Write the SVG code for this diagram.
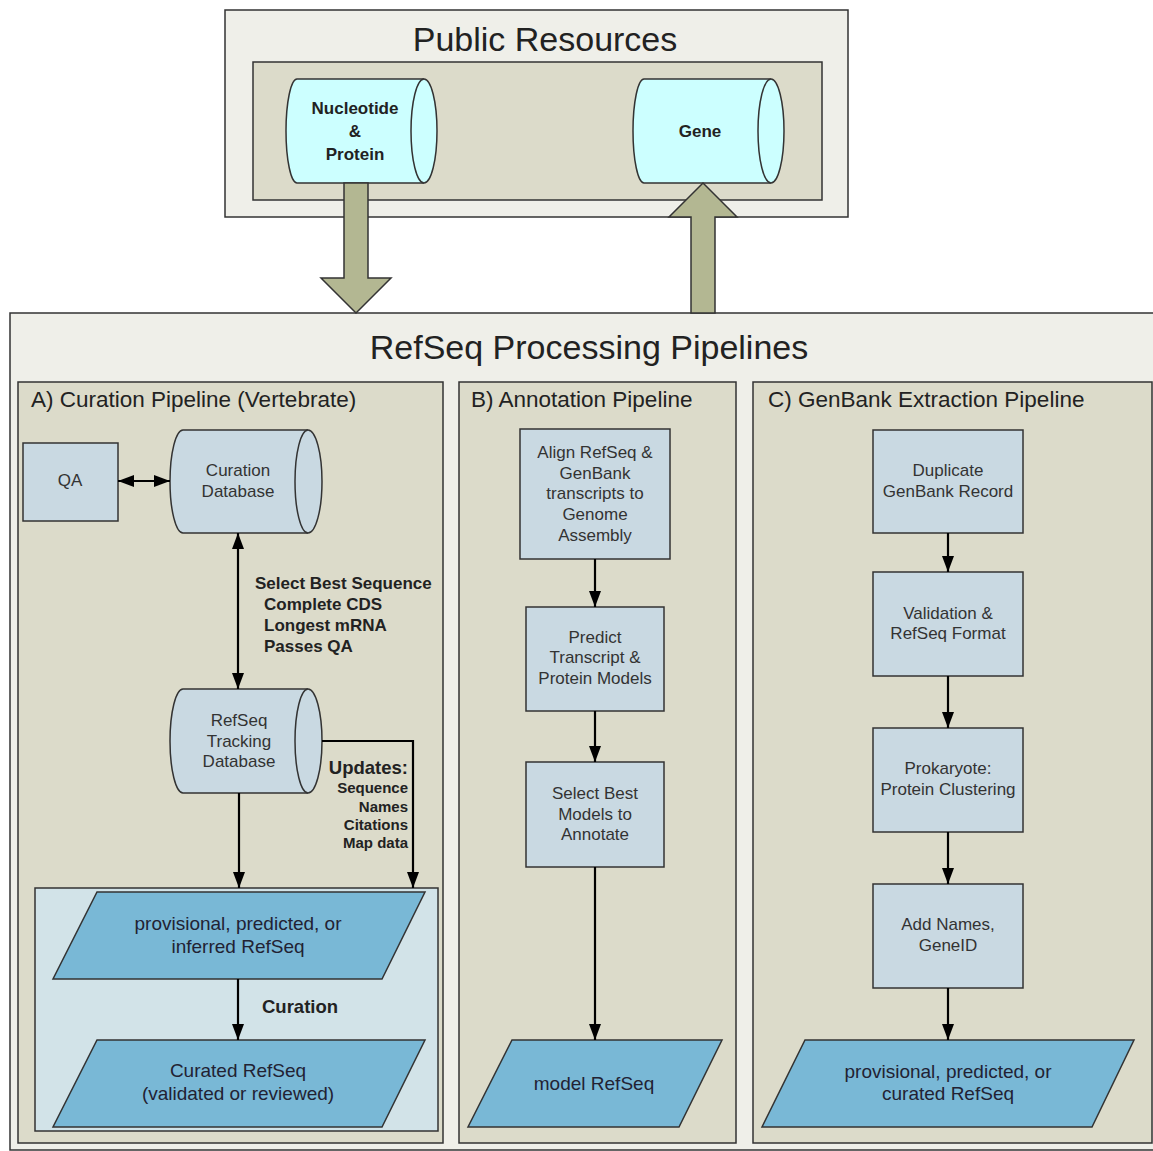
<svg xmlns="http://www.w3.org/2000/svg" width="1153" height="1151" viewBox="0 0 1153 1151">
<defs>
<style>
.outer{fill:#efefe9;stroke:#333;stroke-width:1.5}
.panel{fill:#dcdbca;stroke:#333;stroke-width:1.5}
.proc{fill:#c9d9e2;stroke:#333;stroke-width:1.5}
.cylA{fill:#c9d9e2;stroke:#333;stroke-width:1.5}
.cylP{fill:#ccffff;stroke:#333;stroke-width:1.5}
.para{fill:#79b8d6;stroke:#333;stroke-width:1.5}
.inner{fill:#d2e3e8;stroke:#333;stroke-width:1.5}
.big{fill:#b3b792;stroke:#333;stroke-width:1.5}
.edge{fill:none;stroke:#000;stroke-width:2.2}
text{font-family:"Liberation Sans",Arial,sans-serif}
.t{font-size:17px;fill:#333;text-anchor:middle}
.tp{font-size:19px;fill:#223;text-anchor:middle}
.title{font-size:34px;fill:#222;text-anchor:middle}
.ptitle{font-size:22.5px;fill:#222}
.b{font-weight:bold;fill:#222}
</style>
<marker id="ah" viewBox="0 0 16 12" refX="16" refY="6" markerWidth="16" markerHeight="12" markerUnits="userSpaceOnUse" orient="auto-start-reverse">
<path d="M0,0 L16,6 L0,12 z" fill="#000"/>
</marker>
</defs>

<g id="public-resources">
<rect class="outer" x="225" y="10" width="623" height="207"/>
<rect class="panel" x="253" y="62" width="569" height="138"/>
<text class="title" x="545" y="51">Public Resources</text>
</g>

<g id="nucleotide-protein">
<path class="cylP" d="M297,79 L424,79 A13,52 0 0 1 424,183 L297,183 A11,52 0 0 1 297,79 Z"/>
<path class="cylP" d="M424,79 A13,52 0 0 0 424,183" fill="none"/>
<text class="t b" x="355" y="114" font-size="18">Nucleotide</text>
<text class="t b" x="355" y="137" font-size="18">&amp;</text>
<text class="t b" x="355" y="160" font-size="18">Protein</text>
</g>

<g id="gene">
<path class="cylP" d="M644,79 L771,79 A13,52 0 0 1 771,183 L644,183 A11,52 0 0 1 644,79 Z"/>
<path class="cylP" d="M771,79 A13,52 0 0 0 771,183" fill="none"/>
<text class="t b" x="700" y="137" font-size="18">Gene</text>
</g>

<g id="refseq-pipelines">
<rect class="outer" x="10" y="313" width="1160" height="837"/>
<text class="title" x="589" y="359">RefSeq Processing Pipelines</text>
</g>

<g id="panel-a">
<rect class="panel" x="18" y="382" width="425" height="761"/>
<text class="ptitle" x="31" y="407">A) Curation Pipeline (Vertebrate)</text>
<rect class="inner" x="35" y="888" width="403" height="243"/>
</g>

<g id="panel-b">
<rect class="panel" x="459" y="382" width="277" height="761"/>
<text class="ptitle" x="471" y="407">B) Annotation Pipeline</text>
</g>

<g id="panel-c">
<rect class="panel" x="753" y="382" width="399" height="761"/>
<text class="ptitle" x="768" y="407">C) GenBank Extraction Pipeline</text>
</g>

<g id="qa">
<rect class="proc" x="23" y="443" width="95" height="78"/>
<text class="t" x="70" y="486">QA</text>
</g>

<g id="curation-database">
<path class="cylA" d="M183,430 L308,430 A14,51.5 0 0 1 308,533 L183,533 A13,51.5 0 0 1 183,430 Z"/>
<path class="cylA" d="M308,430 A13,51.5 0 0 0 308,533" fill="none"/>
<text class="t" x="238" y="476">Curation</text>
<text class="t" x="238" y="497">Database</text>
</g>

<g id="refseq-tracking-database">
<path class="cylA" d="M183,689 L308,689 A14,52 0 0 1 308,793 L183,793 A13,52 0 0 1 183,689 Z"/>
<path class="cylA" d="M308,689 A13,52 0 0 0 308,793" fill="none"/>
<text class="t" x="239" y="726">RefSeq</text>
<text class="t" x="239" y="747">Tracking</text>
<text class="t" x="239" y="767">Database</text>
</g>

<g id="a-provisional">
<polygon class="para" points="97,892 425,892 382,979 53,979"/>
<text class="tp" x="238" y="930">provisional, predicted, or</text>
<text class="tp" x="238" y="953">inferred RefSeq</text>
</g>

<g id="a-curated">
<polygon class="para" points="97,1040 425,1040 382,1127 53,1127"/>
<text class="tp" x="238" y="1077">Curated RefSeq</text>
<text class="tp" x="238" y="1100">(validated or reviewed)</text>
</g>

<g id="b-align">
<rect class="proc" x="520" y="429" width="150" height="130"/>
<text class="t" x="595" y="458">Align RefSeq &amp;</text>
<text class="t" x="595" y="479">GenBank</text>
<text class="t" x="595" y="499">transcripts to</text>
<text class="t" x="595" y="520">Genome</text>
<text class="t" x="595" y="541">Assembly</text>
</g>

<g id="b-predict">
<rect class="proc" x="526" y="607" width="138" height="104"/>
<text class="t" x="595" y="643">Predict</text>
<text class="t" x="595" y="663">Transcript &amp;</text>
<text class="t" x="595" y="684">Protein Models</text>
</g>

<g id="b-select">
<rect class="proc" x="526" y="762" width="138" height="105"/>
<text class="t" x="595" y="799">Select Best</text>
<text class="t" x="595" y="820">Models to</text>
<text class="t" x="595" y="840">Annotate</text>
</g>

<g id="b-model">
<polygon class="para" points="512,1040 722,1040 679,1127 468,1127"/>
<text class="tp" x="594" y="1090">model RefSeq</text>
</g>

<g id="c-duplicate">
<rect class="proc" x="873" y="430" width="150" height="103"/>
<text class="t" x="948" y="476">Duplicate</text>
<text class="t" x="948" y="497">GenBank Record</text>
</g>

<g id="c-validation">
<rect class="proc" x="873" y="572" width="150" height="104"/>
<text class="t" x="948" y="619">Validation &amp;</text>
<text class="t" x="948" y="639">RefSeq Format</text>
</g>

<g id="c-prokaryote">
<rect class="proc" x="873" y="728" width="150" height="104"/>
<text class="t" x="948" y="774">Prokaryote:</text>
<text class="t" x="948" y="795">Protein Clustering</text>
</g>

<g id="c-addnames">
<rect class="proc" x="873" y="884" width="150" height="104"/>
<text class="t" x="948" y="930">Add Names,</text>
<text class="t" x="948" y="951">GeneID</text>
</g>

<g id="c-provisional">
<polygon class="para" points="805,1040 1134,1040 1092,1127 762,1127"/>
<text class="tp" x="948" y="1078">provisional, predicted, or</text>
<text class="tp" x="948" y="1100">curated RefSeq</text>
</g>

<g id="connectors">
<path class="big" d="M344,183 L368,183 L368,278 L391,278 L356,313 L321,278 L344,278 Z"/>
<path class="big" d="M691,313 L715,313 L715,217 L737,217 L703,183 L669,217 L691,217 Z"/>
<line class="edge" x1="118" y1="481" x2="170" y2="481" marker-start="url(#ah)" marker-end="url(#ah)"/>
<line class="edge" x1="238" y1="533" x2="238" y2="689" marker-start="url(#ah)" marker-end="url(#ah)"/>
<line class="edge" x1="239" y1="793" x2="239" y2="888" marker-end="url(#ah)"/>
<polyline class="edge" points="322,741 413,741 413,888" marker-end="url(#ah)"/>
<line class="edge" x1="238" y1="979" x2="238" y2="1040" marker-end="url(#ah)"/>
<line class="edge" x1="595" y1="559" x2="595" y2="607" marker-end="url(#ah)"/>
<line class="edge" x1="595" y1="711" x2="595" y2="762" marker-end="url(#ah)"/>
<line class="edge" x1="595" y1="867" x2="595" y2="1040" marker-end="url(#ah)"/>
<line class="edge" x1="948" y1="533" x2="948" y2="572" marker-end="url(#ah)"/>
<line class="edge" x1="948" y1="676" x2="948" y2="728" marker-end="url(#ah)"/>
<line class="edge" x1="948" y1="832" x2="948" y2="884" marker-end="url(#ah)"/>
<line class="edge" x1="948" y1="988" x2="948" y2="1040" marker-end="url(#ah)"/>
<text class="b" x="255" y="589" font-size="17">Select Best Sequence</text>
<text class="b" x="264" y="610" font-size="17">Complete CDS</text>
<text class="b" x="264" y="631" font-size="17">Longest mRNA</text>
<text class="b" x="264" y="652" font-size="17">Passes QA</text>
<text class="b" x="408" y="774" font-size="18.5" text-anchor="end">Updates:</text>
<text class="b" x="408" y="793" font-size="15" text-anchor="end">Sequence</text>
<text class="b" x="408" y="812" font-size="15" text-anchor="end">Names</text>
<text class="b" x="408" y="830" font-size="15" text-anchor="end">Citations</text>
<text class="b" x="408" y="848" font-size="15" text-anchor="end">Map data</text>
<text class="b" x="262" y="1013" font-size="18.5">Curation</text>
</g>
</svg>
